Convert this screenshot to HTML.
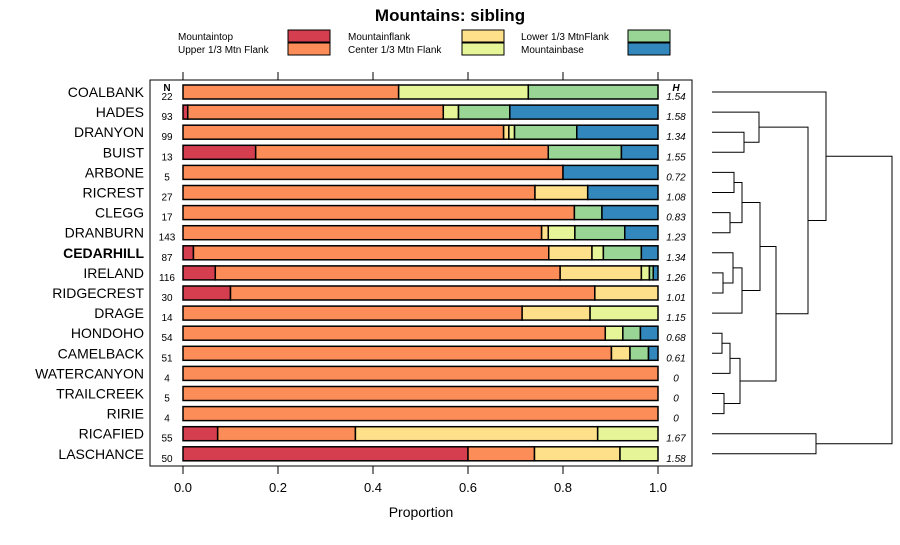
<!DOCTYPE html>
<html><head><meta charset="utf-8"><style>
body{margin:0;background:#fff}
svg{font-family:"Liberation Sans",sans-serif}
</style></head><body>
<svg id="c" width="900" height="540" xmlns="http://www.w3.org/2000/svg">
<text x="450" y="21" text-anchor="middle" font-size="17" font-weight="bold">Mountains: sibling</text>
<g id="legend"></g>
<rect x="150" y="80" width="542" height="386" fill="none" stroke="#000"/>
<g id="axes"></g><g id="bars"></g><g id="dendro"></g>
<text x="421" y="517" text-anchor="middle" font-size="14">Proportion</text>
<text x="167" y="91" text-anchor="middle" font-size="10" font-weight="bold">N</text>
<text x="676" y="91" text-anchor="middle" font-size="10" font-weight="bold" font-style="italic">H</text>
</svg>
<script>
const categories=["COALBANK","HADES","DRANYON","BUIST","ARBONE","RICREST","CLEGG","DRANBURN","CEDARHILL","IRELAND","RIDGECREST","DRAGE","HONDOHO","CAMELBACK","WATERCANYON","TRAILCREEK","RIRIE","RICAFIED","LASCHANCE"];
const seriesNames=["Mountaintop","Upper 1/3 Mtn Flank","Mountainflank","Center 1/3 Mtn Flank","Lower 1/3 MtnFlank","Mountainbase"];
const colors=["#d53e4f","#fc8d59","#fee08b","#e6f598","#99d594","#3288bd"];
const mountaintop=[0,.01,0,.153,0,0,0,0,.022,.068,.1,0,0,0,0,0,0,.073,.6];
const upperFlank=[.454,.538,.675,.616,.8,.741,.824,.755,.748,.726,.767,.714,.889,.902,1,1,1,.29,.14];
const mountainflank=[0,0,.011,0,0,.111,0,.014,.091,.171,.133,.143,0,.039,0,0,0,.51,.18];
const centerFlank=[.273,.032,.012,0,0,0,0,.056,.024,.017,0,.143,.037,0,0,0,0,.127,.08];
const lowerFlank=[.273,.108,.131,.154,0,0,.058,.105,.08,.008,0,0,.037,.039,0,0,0,0,0];
const mountainbase=[0,.312,.171,.077,.2,.148,.118,.07,.035,.01,0,0,.037,.02,0,0,0,0,0];
const nValues=["22","93","99","13","5","27","17","143","87","116","30","14","54","51","4","5","4","55","50"];
const hValues=["1.54","1.58","1.34","1.55","0.72","1.08","0.83","1.23","1.34","1.26","1.01","1.15","0.68","0.61","0","0","0","1.67","1.58"];
const xTicks=[0,0.2,0.4,0.6,0.8,1.0];
const xTickLabels=["0.0","0.2","0.4","0.6","0.8","1.0"];
// dendrogram merges: [childA, childB, height]; leaves are indices, clusters "c"+k
const merges=[[2,3,744],[1,"c0",759],[4,5,734],[6,7,730],["c2","c3",742],[9,10,723],[8,"c5",733],[11,"c6",742],["c4","c7",760],[12,13,722],[14,"c9",730],[15,16,724],["c10","c11",740],["c8","c12",776],["c1","c13",808],[0,"c14",826],[17,18,816],["c15","c16",892]];
const NS="http://www.w3.org/2000/svg";
const X=v=>183+v*475, Y=i=>92+i*20.1;
function mk(t,a,p){const e=document.createElementNS(NS,t);for(const k in a)e.setAttribute(k,a[k]);(p||document.getElementById('c')).appendChild(e);return e;}
const series=[mountaintop,upperFlank,mountainflank,centerFlank,lowerFlank,mountainbase];
const lg=document.getElementById('legend');
const lx=[178,348,521],sx=[288,462,628];
seriesNames.forEach((n,k)=>{const col=Math.floor(k/2),row=k%2;
 const t=mk('text',{x:lx[col],y:40+row*13,'font-size':10},lg);t.textContent=n;
 
 
 const r=mk('rect',{x:sx[col],y:30+row*13,width:42,height:12,fill:colors[k],stroke:'#000'},lg);
 
 });
const ax=document.getElementById('axes');
xTicks.forEach((v,i)=>{mk('line',{x1:X(v),x2:X(v),y1:72,y2:80,stroke:'#000'},ax);mk('line',{x1:X(v),x2:X(v),y1:466,y2:474,stroke:'#000'},ax);
 const t=mk('text',{x:X(v),y:492,'text-anchor':'middle','font-size':13},ax);t.textContent=xTickLabels[i];
 
 });
const bg=document.getElementById('bars');
categories.forEach((c,i)=>{const y=Y(i);
 const t=mk('text',{x:144,y:y+5,'text-anchor':'end','font-size':14,'font-weight':c==="CEDARHILL"?'bold':'normal'},bg);t.textContent=c;
 
 
 const n=mk('text',{x:167,y:y+8,'text-anchor':'middle','font-size':10},bg);n.textContent=nValues[i];
 
 
 const h=mk('text',{x:676,y:y+8,'text-anchor':'middle','font-size':10,'font-style':'italic'},bg);h.textContent=hValues[i];
 
 
 let cum=0;series.forEach((s,k)=>{if(s[i]>0){const r=mk('rect',{x:X(cum),y:y-7,width:X(cum+s[i])-X(cum),height:14,fill:colors[k],stroke:'#000','stroke-width':1.5},bg);
  
  
  cum+=s[i];}});
});
const dg=document.getElementById('dendro');
const pos={};categories.forEach((c,i)=>pos[i]={y:Y(i),x:712});
merges.forEach((m,k)=>{const a=pos[m[0]],b=pos[m[1]],h=m[2];
 mk('path',{d:`M${a.x},${a.y}H${h}V${b.y}H${b.x}`,fill:'none',stroke:'#000','stroke-width':1},dg);
 pos["c"+k]={x:h,y:(a.y+b.y)/2};});
</script>
</body></html>
